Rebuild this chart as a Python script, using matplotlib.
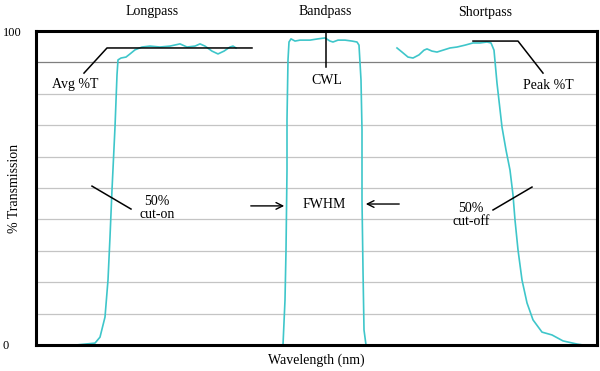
import matplotlib
matplotlib.use("Agg")
import matplotlib.pyplot as plt

plt.rcParams['font.family'] = ['Liberation Serif', 'DejaVu Serif']

# transmission curves (wavelength in arbitrary units, % transmission)
lp_x = [40, 59, 64, 69, 72, 74, 76, 79, 81, 82, 85, 90, 94, 99, 106, 114, 124, 134,
        144, 151, 159, 164, 169, 176, 182, 188, 194, 197, 200]
lp_y = [0, 0.6, 2.5, 8.9, 20.7, 34.4, 49.4, 69.4, 86, 90.8, 91.4, 91.7, 92.7, 94, 94.9,
        95.2, 94.9, 95.2, 95.9, 94.9, 95.2, 95.9, 95.2, 93.6, 92.7, 93.6, 94.9, 95.2, 94.6]

bp_x = [247, 249, 250, 251, 251, 252, 253, 255, 259, 264, 274, 282, 289, 294, 297, 302,
        309, 316, 321, 323, 325, 326, 326, 327, 328, 330]
bp_y = [0, 14.3, 30, 55.7, 71.7, 90.8, 96.5, 97.5, 96.8, 97.1, 97.1, 97.5, 97.8, 96.8,
        96.5, 97.1, 97.1, 96.8, 96.5, 95.5, 84.4, 68.5, 46.2, 23.9, 4.8, 0]

sp_x = [361, 366, 372, 377, 383, 388, 391, 396, 401, 407, 414, 421, 429, 437, 444, 451,
        455, 458, 461, 466, 470, 474, 477, 479, 482, 486, 491, 497, 506, 516, 527, 541, 547]
sp_y = [94.6, 93.3, 91.7, 91.4, 92.4, 93.9, 94.3, 93.6, 93.3, 93.9, 94.6, 94.9, 95.5,
        96.2, 96.2, 96.5, 96.2, 93.9, 83.4, 69.4, 62.1, 55.7, 47.8, 39.8, 30.3, 20.7,
        13.4, 8, 4.1, 3.2, 1.3, 0.3, 0]

# annotation guides
avg_x, avg_y = [48, 71, 216], [86.6, 94.6, 94.6]
peak_x, peak_y = [437, 482, 507], [96.8, 96.8, 86.6]
cwl_x, cwl_y = [290, 290], [99.4, 88.5]
cuton_x, cuton_y = [56, 95], [50.6, 43.3]
cutoff_x, cutoff_y = [457, 496], [43, 50.3]

teal = '#3ec6ca'

fig = plt.figure(figsize=(6, 3.71), dpi=100)
ax = fig.add_axes([0.06, 0.0701, 0.935, 0.8463])
ax.set_xlim(0, 561)
ax.set_ylim(0, 100)

for g in range(10, 100, 10):
    ax.axhline(g, color='#7f7f7f' if g == 90 else '#c4c4c4', lw=0.9, zorder=0)

ax.plot(lp_x, lp_y, color=teal, lw=1.2)
ax.plot(bp_x, bp_y, color=teal, lw=1.2)
ax.plot(sp_x, sp_y, color=teal, lw=1.2)

for xs, ys in [(avg_x, avg_y), (peak_x, peak_y), (cwl_x, cwl_y),
               (cuton_x, cuton_y), (cutoff_x, cutoff_y)]:
    ax.plot(xs, ys, color='black', lw=1.1)

arr = dict(arrowstyle='->', color='black', lw=1.0, mutation_scale=12)
ax.annotate('', xy=(251, 44.3), xytext=(212, 44.3), arrowprops=arr)
ax.annotate('', xy=(327, 44.9), xytext=(366, 44.9), arrowprops=arr)

fs = 10
ax.text(39, 83.0, 'Avg %T', ha='center', va='center', fontsize=fs)
ax.text(291, 84.1, 'CWL', ha='center', va='center', fontsize=fs)
ax.text(512, 82.8, 'Peak %T', ha='center', va='center', fontsize=fs)
ax.text(121, 43.6, '50%\ncut-on', ha='center', va='center', fontsize=fs, linespacing=1.0)
ax.text(288, 44.6, 'FWHM', ha='center', va='center', fontsize=fs)
ax.text(435, 41.4, '50%\ncut-off', ha='center', va='center', fontsize=fs, linespacing=1.0)

ax.text(116, 106.3, 'Longpass', ha='center', va='center', fontsize=fs, clip_on=False)
ax.text(289, 106.3, 'Bandpass', ha='center', va='center', fontsize=fs, clip_on=False)
ax.text(449, 105.8, 'Shortpass', ha='center', va='center', fontsize=fs, clip_on=False)

ax.set_xticks([])
ax.set_yticks([0, 100])
ax.set_yticklabels(['0', '100'], fontsize=9, ha='left')
ax.tick_params(axis='y', length=0, pad=24)
ax.set_ylabel('% Transmission', fontsize=fs)
ax.yaxis.set_label_coords(-0.027, 0.5)
ax.set_xlabel('Wavelength (nm)', fontsize=fs, labelpad=6)

for s in ax.spines.values():
    s.set_linewidth(2.2)
    s.set_color('black')

fig.savefig('out.png', dpi=100)
